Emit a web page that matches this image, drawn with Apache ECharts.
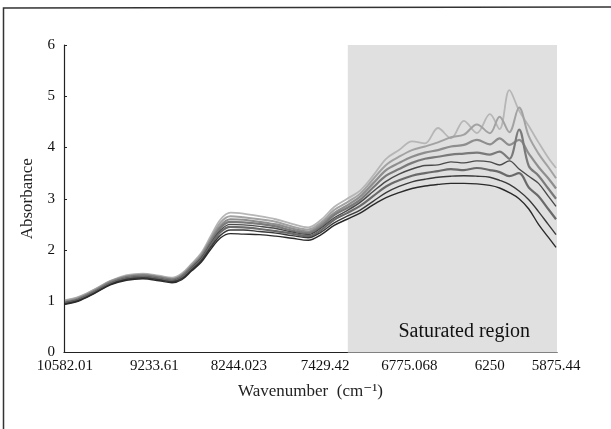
<!DOCTYPE html>
<html>
<head>
<meta charset="utf-8">
<script src="https://cdn.jsdelivr.net/npm/echarts@6/dist/echarts.min.js"></script>
<style>
  html, body { margin: 0; padding: 0; background: #ffffff; }
  #chart { width: 611px; height: 429px; }
</style>
</head>
<body>
<div id="chart"></div>
<script>
// Sample positions along the spectrum (wavelength, nm); the axis is labelled in wavenumbers (cm-1)
const wavelengthNm = [945, 965, 990, 1015, 1040, 1065, 1090, 1110, 1125, 1140, 1155, 1170, 1185, 1200, 1220, 1245, 1270, 1295, 1320, 1340, 1360, 1380,
  1400, 1420, 1440, 1460, 1480, 1500, 1520, 1540, 1560, 1580, 1600, 1615, 1630, 1645, 1660, 1675, 1690, 1702];

// Tick labels (wavenumber, cm-1)
const tickWavenumbers = ['10582.01', '9233.61', '8244.023', '7429.42', '6775.068', '6250', '5875.44'];

// Absorbance spectra (lowest to highest)
const spectrum1 = [0.94, 1.00, 1.15, 1.32, 1.41, 1.44, 1.40, 1.36, 1.42, 1.59, 1.76, 2.02, 2.24, 2.32, 2.31, 2.30, 2.27, 2.23, 2.19, 2.30, 2.48, 2.60,
  2.72, 2.88, 3.02, 3.12, 3.20, 3.25, 3.28, 3.30, 3.30, 3.29, 3.26, 3.21, 3.12, 3.00, 2.80, 2.50, 2.25, 2.05];
const spectrum2 = [0.95, 1.01, 1.16, 1.33, 1.43, 1.46, 1.42, 1.38, 1.44, 1.61, 1.79, 2.06, 2.29, 2.39, 2.39, 2.36, 2.33, 2.28, 2.24, 2.35, 2.53, 2.66,
  2.78, 2.95, 3.12, 3.24, 3.33, 3.38, 3.42, 3.44, 3.45, 3.44, 3.42, 3.36, 3.28, 3.15, 2.98, 2.75, 2.50, 2.30];
const spectrum3 = [0.96, 1.02, 1.17, 1.34, 1.44, 1.47, 1.43, 1.39, 1.46, 1.63, 1.81, 2.10, 2.35, 2.45, 2.44, 2.41, 2.37, 2.32, 2.27, 2.39, 2.59, 2.72,
  2.86, 3.05, 3.24, 3.36, 3.45, 3.50, 3.54, 3.58, 3.56, 3.60, 3.56, 3.52, 3.44, 3.50, 3.22, 3.05, 2.80, 2.60];
const spectrum4 = [0.97, 1.03, 1.18, 1.35, 1.45, 1.48, 1.44, 1.40, 1.47, 1.65, 1.84, 2.13, 2.39, 2.50, 2.49, 2.46, 2.42, 2.35, 2.30, 2.43, 2.63, 2.77,
  2.93, 3.14, 3.34, 3.48, 3.58, 3.65, 3.66, 3.72, 3.70, 3.74, 3.72, 3.66, 3.74, 3.58, 3.44, 3.30, 3.05, 2.85];
const spectrum5 = [0.98, 1.04, 1.19, 1.36, 1.47, 1.50, 1.46, 1.42, 1.49, 1.67, 1.86, 2.16, 2.44, 2.55, 2.54, 2.51, 2.46, 2.38, 2.33, 2.46, 2.68, 2.82,
  2.98, 3.22, 3.45, 3.58, 3.70, 3.78, 3.82, 3.86, 3.88, 3.90, 3.86, 3.92, 3.78, 4.35, 3.64, 3.45, 3.20, 3.00];
const spectrum6 = [0.99, 1.05, 1.20, 1.38, 1.48, 1.51, 1.47, 1.43, 1.50, 1.68, 1.88, 2.20, 2.48, 2.60, 2.59, 2.55, 2.50, 2.42, 2.36, 2.50, 2.72, 2.87,
  3.04, 3.30, 3.56, 3.70, 3.82, 3.90, 3.95, 4.02, 4.05, 4.15, 4.06, 4.18, 4.05, 4.15, 3.88, 3.62, 3.40, 3.20];
const spectrum7 = [1.01, 1.07, 1.22, 1.39, 1.49, 1.52, 1.48, 1.44, 1.52, 1.71, 1.91, 2.23, 2.54, 2.66, 2.64, 2.60, 2.55, 2.46, 2.40, 2.54, 2.78, 2.93,
  3.10, 3.38, 3.66, 3.82, 3.95, 4.02, 4.10, 4.20, 4.25, 4.45, 4.28, 4.60, 4.30, 4.78, 4.22, 3.88, 3.62, 3.40];
const spectrum8 = [1.02, 1.08, 1.23, 1.40, 1.51, 1.54, 1.50, 1.46, 1.54, 1.73, 1.94, 2.28, 2.60, 2.73, 2.71, 2.66, 2.60, 2.51, 2.44, 2.59, 2.84, 3.00,
  3.16, 3.45, 3.78, 3.95, 4.12, 4.08, 4.38, 4.18, 4.52, 4.28, 4.65, 4.36, 5.12, 4.72, 4.42, 4.10, 3.80, 3.60];

const spectra = [spectrum1, spectrum2, spectrum3, spectrum4, spectrum5, spectrum6, spectrum7, spectrum8];
const saturatedFromNm = 1381;

const lineColors = ['#2a2a2a', '#3a3a3a', '#6a6a6a', '#4a4a4a', '#7a7a7a', '#8e8e8e', '#a2a2a2', '#b6b6b6'];
const lineWidths = [1.4, 1.4, 2.2, 1.4, 2.2, 2.2, 2.0, 1.8];
const serif = '"Liberation Serif", "DejaVu Serif", serif';
const tickNm = tickWavenumbers.map(w => 1e7 / parseFloat(w));

const chart = echarts.init(document.getElementById('chart'), null, { renderer: 'canvas' });

const series = spectra.map((s, k) => ({
  type: 'line',
  data: wavelengthNm.map((x, i) => [x, s[i]]),
  showSymbol: false,
  smooth: 0.35,
  z: 10 - k,
  lineStyle: { color: lineColors[k], width: lineWidths[k] }
}));

// Saturated region shading
series.unshift({
  type: 'line',
  data: [],
  z: 1,
  markArea: {
    silent: true,
    itemStyle: { color: '#e0e0e0' },
    label: {
      show: true,
      position: 'insideBottomRight',
      offset: [-22, -6],
      color: '#111',
      fontFamily: serif,
      fontSize: 20
    },
    data: [[{ name: 'Saturated region', xAxis: saturatedFromNm, yAxis: 0 }, { xAxis: 1703.5, yAxis: 6 }]]
  }
});

chart.setOption({
  animation: false,
  backgroundColor: '#ffffff',
  grid: { left: 64, right: 54, top: 45, bottom: 76.5, containLabel: false },
  xAxis: {
    type: 'value',
    min: 943.5,
    max: 1703.5,
    name: 'Wavenumber  (cm\u207B\u00B9)',
    nameLocation: 'middle',
    nameGap: 31,
    nameTextStyle: { fontFamily: serif, fontSize: 17, color: '#222' },
    axisLine: { show: true, lineStyle: { color: '#222', width: 1.2 } },
    axisTick: { show: false, customValues: tickNm },
    axisLabel: {
      customValues: tickNm,
      fontFamily: serif,
      fontSize: 15,
      color: '#111',
      margin: 6,
      formatter: function (v) {
        let best = 0;
        for (let i = 1; i < tickNm.length; i++) {
          if (Math.abs(tickNm[i] - v) < Math.abs(tickNm[best] - v)) best = i;
        }
        return tickWavenumbers[best];
      }
    },
    splitLine: { show: false }
  },
  yAxis: {
    type: 'value',
    min: 0,
    max: 6,
    interval: 1,
    name: 'Absorbance',
    nameLocation: 'middle',
    nameGap: 28,
    nameTextStyle: { fontFamily: serif, fontSize: 17, color: '#222' },
    axisLine: { show: true, lineStyle: { color: '#222', width: 1.2 } },
    axisTick: { show: true, inside: true, length: 3, lineStyle: { color: '#222' } },
    axisLabel: { fontFamily: serif, fontSize: 15, color: '#111', margin: 9 },
    splitLine: { show: false }
  },
  graphic: [{
    type: 'polyline',
    silent: true,
    shape: { points: [[3.5, 429], [3.5, 8], [611, 7]] },
    style: { stroke: '#333', lineWidth: 1.5, fill: null }
  }],
  series: series
});
</script>
</body>
</html>
